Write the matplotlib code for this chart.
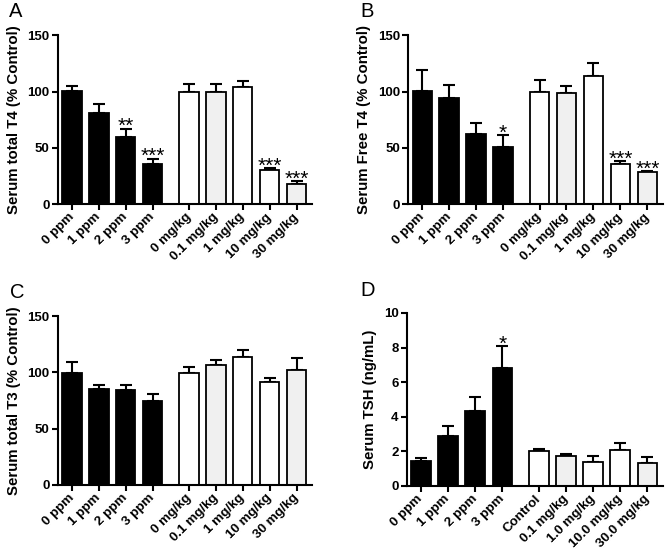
import numpy as np
import matplotlib
matplotlib.use('Agg')
import matplotlib.pyplot as plt

plt.rcParams['font.family'] = ['Liberation Sans', 'DejaVu Sans']

# bar positions: 4 diet groups, gap, 5 gavage groups
pos = [0, 1, 2, 3, 4.35, 5.35, 6.35, 7.35, 8.35]
colors = ['black'] * 4 + ['white', '#f0f0f0', 'white', 'white', '#f0f0f0']

labels_abc = ['0 ppm', '1 ppm', '2 ppm', '3 ppm', '0 mg/kg', '0.1 mg/kg',
              '1 mg/kg', '10 mg/kg', '30 mg/kg']
labels_d = ['0 ppm', '1 ppm', '2 ppm', '3 ppm', 'Control', '0.1 mg/kg',
            '1.0 mg/kg', '10.0 mg/kg', '30.0 mg/kg']

# Panel A - total T4
t4_mean = [100.5, 81, 59.5, 35.5, 99.7, 99.4, 103.8, 30.2, 17.8]
t4_err = [4.2, 7.5, 7.5, 4.8, 6.8, 7.0, 5.3, 2.0, 2.4]
t4_sig = ['', '', '**', '***', '', '', '', '***', '***']

# Panel B - free T4
ft4_mean = [100.6, 93.8, 62.4, 50.6, 99.7, 99.1, 113.6, 35.8, 28.7]
ft4_err = [18.6, 12.2, 9.6, 10.4, 10.1, 6.2, 11.3, 2.4, 0.9]
ft4_sig = ['', '', '', '*', '', '', '', '***', '***']

# Panel C - total T3
t3_mean = [99.7, 85.5, 84.0, 74.9, 99.4, 106.2, 113.3, 91.1, 102.4]
t3_err = [9.5, 3.3, 4.8, 5.9, 5.3, 4.5, 6.5, 3.9, 10.0]
t3_sig = [''] * 9

# Panel D - TSH
tsh_mean = [1.45, 2.9, 4.34, 6.8, 1.99, 1.72, 1.39, 2.05, 1.35]
tsh_err = [0.15, 0.59, 0.81, 1.29, 0.17, 0.15, 0.31, 0.42, 0.31]
tsh_sig = ['', '', '', '*', '', '', '', '', '']

fig = plt.figure(figsize=(6.67, 5.49), dpi=100)

panels = [
    ('A', [0.087, 0.628, 0.381, 0.308], t4_mean, t4_err, t4_sig, labels_abc,
     'Serum total T4 (% Control)', 150, [0, 50, 100, 150], (0.014, 0.997)),
    ('B', [0.612, 0.628, 0.382, 0.308], ft4_mean, ft4_err, ft4_sig, labels_abc,
     'Serum Free T4 (% Control)', 150, [0, 50, 100, 150], (0.541, 0.997)),
    ('C', [0.087, 0.117, 0.381, 0.307], t3_mean, t3_err, t3_sig, labels_abc,
     'Serum total T3 (% Control)', 150, [0, 50, 100, 150], (0.015, 0.484)),
    ('D', [0.610, 0.115, 0.384, 0.315], tsh_mean, tsh_err, tsh_sig, labels_d,
     'Serum TSH (ng/mL)', 10, [0, 2, 4, 6, 8, 10], (0.541, 0.488)),
]

for letter, rect, mean, err, sig, labs, ylab, ymax, yt, lpos in panels:
    ax = fig.add_axes(rect)
    ax.bar(pos, mean, width=0.72, color=colors, edgecolor='black',
           linewidth=1.3, zorder=2)
    ax.errorbar(pos, mean, yerr=[np.zeros(len(err)), err], fmt='none',
                ecolor='black', elinewidth=1.5, capsize=4, capthick=1.5,
                zorder=1)
    for x, m, e, s in zip(pos, mean, err, sig):
        if s:
            ax.annotate(s, (x, m + e), xytext=(0, -2.5),
                        textcoords='offset points', ha='center',
                        va='baseline', fontsize=15)
    ax.set_xlim(-0.52, 8.93)
    ax.set_ylim(0, ymax)
    ax.set_yticks(yt)
    ax.set_xticks(pos)
    ax.set_xticklabels(labs, rotation=45, ha='right', va='center',
                       rotation_mode='anchor', fontweight='bold', fontsize=9.6)
    for t in ax.get_yticklabels():
        t.set_fontweight('bold')
        t.set_fontsize(9.5)
    ax.set_ylabel(ylab, fontweight='bold', fontsize=10.8, labelpad=5)
    ax.spines['top'].set_visible(False)
    ax.spines['right'].set_visible(False)
    ax.spines['left'].set_linewidth(1.5)
    ax.spines['bottom'].set_linewidth(1.5)
    ax.tick_params(axis='both', width=1.5, length=4, pad=2)
    ax.tick_params(axis='x', pad=4)
    fig.text(lpos[0], lpos[1], letter, fontsize=14.5, ha='left', va='top')

fig.savefig('out.png', dpi=100)
